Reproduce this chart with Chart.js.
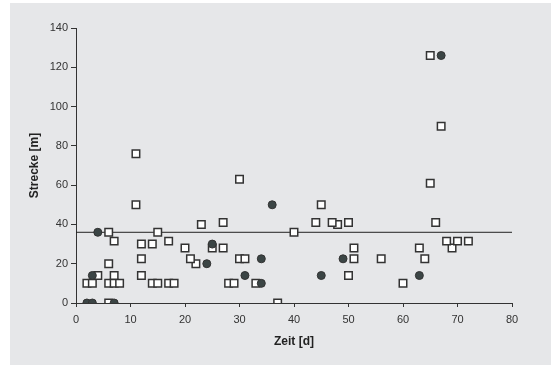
<!DOCTYPE html>
<html>
<head>
<meta charset="utf-8">
<script src="https://cdn.jsdelivr.net/npm/chart.js@4"></script>
<style>
    html, body { margin: 0; padding: 0; background: #fff; }
    #wrap { width: 553px; height: 366px; }
</style>
</head>
<body>
<div id="wrap"><canvas id="scatterChart" width="553" height="366"></canvas></div>
<script>
// offene quadrate
const squareX = [2, 3, 6, 7, 8, 14, 15, 17, 18, 28, 29, 33, 60,
    6, 37,
    4, 7, 12, 50,
    6, 22,
    12, 21, 30, 31, 51, 56, 64,
    20, 25, 27, 51, 63, 69,
    12, 14,
    7, 17, 68, 70, 72,
    6, 15, 40,
    23, 48,
    27, 44, 47, 50, 66,
    11, 45,
    65, 30, 11, 67, 65];
const squareY = [10, 10, 10, 10, 10, 10, 10, 10, 10, 10, 10, 10, 10,
    0, 0,
    14, 14, 14, 14,
    20, 20,
    22.5, 22.5, 22.5, 22.5, 22.5, 22.5, 22.5,
    28, 28, 28, 28, 28, 28,
    30, 30,
    31.5, 31.5, 31.5, 31.5, 31.5,
    36, 36, 36,
    40, 40,
    41, 41, 41, 41, 41,
    50, 50,
    61, 63, 76, 90, 126];

// gefuellte kreise
const circleX = [2, 3, 7, 34, 3, 31, 45, 63, 24, 34, 49, 25, 4, 36, 67];
const circleY = [0, 0, 0, 10, 14, 14, 14, 14, 20, 22.5, 22.5, 30, 36, 50, 126];

// horizontale linie
const lineX = [0, 80];
const lineLevel = 36;

const xTicks = [0, 10, 20, 30, 40, 50, 60, 70, 80];
const yTicks = [0, 20, 40, 60, 80, 100, 120, 140];

const toPoints = (xs, ys) => xs.map((x, i) => ({ x: x, y: ys[i] }));

// hintergrund
const panelBg = {
    id: "panelBg",
    beforeDraw(chart) {
        const c = chart.ctx;
        c.save();
        c.fillStyle = "#ffffff";
        c.fillRect(0, 0, chart.width, chart.height);
        c.fillStyle = "#e6e7e9";
        c.fillRect(10, 3, 541, 362);
        c.restore();
    }
};

const ctx = document.getElementById("scatterChart").getContext("2d");

new Chart(ctx, {
    type: "scatter",
    data: {
        datasets: [
            {
                type: "line",
                data: lineX.map(x => ({ x: x, y: lineLevel })),
                borderColor: "#222",
                borderWidth: 1,
                pointRadius: 0,
                fill: false,
                order: 3
            },
            {
                data: toPoints(squareX, squareY),
                pointStyle: "rect",
                pointRadius: 5.3,
                backgroundColor: "#ffffff",
                borderColor: "#333",
                borderWidth: 1.5,
                order: 2
            },
            {
                data: toPoints(circleX, circleY),
                pointStyle: "circle",
                pointRadius: 4,
                backgroundColor: "#3b4545",
                borderColor: "#333",
                borderWidth: 1,
                order: 1
            }
        ]
    },
    options: {
        responsive: false,
        animation: false,
        events: [],
        layout: {
            padding: { left: 0, right: 41, top: 28, bottom: 0 }
        },
        plugins: {
            legend: { display: false },
            tooltip: { enabled: false }
        },
        scales: {
            x: {
                type: "linear",
                min: 0,
                max: 80,
                afterFit: s => { s.height = 63; },
                afterBuildTicks: s => { s.ticks = xTicks.map(v => ({ value: v })); },
                grid: { drawOnChartArea: false, drawTicks: true, tickLength: 4, color: "#333" },
                border: { display: true, color: "#333", width: 1 },
                ticks: { color: "#333", padding: 6, font: { family: "Arial, 'Liberation Sans'", size: 11 } },
                title: {
                    display: true,
                    text: "Zeit [d]",
                    color: "#222",
                    padding: { top: 0, bottom: 17 },
                    font: { family: "Arial, 'Liberation Sans'", size: 12, weight: "bold" }
                }
            },
            y: {
                type: "linear",
                min: 0,
                max: 140,
                afterFit: s => { s.width = 76; },
                afterBuildTicks: s => { s.ticks = yTicks.map(v => ({ value: v })); },
                grid: { drawOnChartArea: false, drawTicks: true, tickLength: 5, color: "#333" },
                border: { display: true, color: "#333", width: 1 },
                ticks: { color: "#333", padding: 3, font: { family: "Arial, 'Liberation Sans'", size: 11 } },
                title: {
                    display: true,
                    text: "Strecke [m]",
                    color: "#222",
                    padding: { top: 27, bottom: 0 },
                    font: { family: "Arial, 'Liberation Sans'", size: 12, weight: "bold" }
                }
            }
        }
    },
    plugins: [panelBg]
});
</script>
</body>
</html>
